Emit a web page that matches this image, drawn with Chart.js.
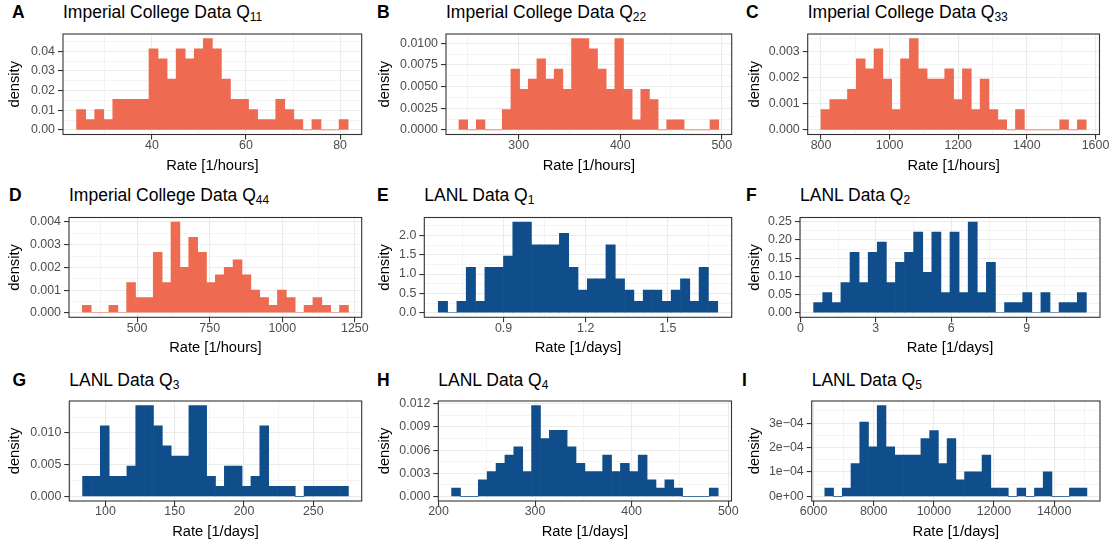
<!DOCTYPE html>
<html>
<head>
<meta charset="utf-8">
<script src="https://cdn.jsdelivr.net/npm/chart.js@4.4.1/dist/chart.umd.min.js"></script>
<style>
  body { margin: 0; background: #fff; font-family: "Liberation Sans", Arial, sans-serif; }
  #wrap { position: relative; width: 1113px; height: 545px; overflow: hidden; }
  .tag { position: absolute; font-weight: bold; font-size: 17.5px; line-height: 17.5px; }
  .ttl { position: absolute; font-size: 17.5px; line-height: 17.5px; white-space: nowrap; }
  .ttl sub { font-size: 12px; vertical-align: -2.5px; line-height: 0; }
  canvas { position: absolute; }
</style>
</head>
<body>
<div id="wrap"></div>
<script>
// histogram data, 30 equal bins each: [first edge, last edge] and density per bin

// Imperial College Q11
const rangeQ11 = [24.0, 81.7];
const densQ11 = [0.0103,0.0052,0.0103,0.0052,0.0155,0.0155,0.0155,0.0155,0.0412,0.0361,0.0258,0.0412,0.0361,0.0412,0.0464,0.0412,0.0258,0.0155,0.0155,0.0103,0.0052,0.0052,0.0155,0.0103,0.0052,0,0.0052,0,0,0.0052];
const xTicksQ11 = [40, 60, 80];
const yTicksQ11 = [0, 0.01, 0.02, 0.03, 0.04];
const yLabelsQ11 = ['0.00', '0.01', '0.02', '0.03', '0.04'];

// Imperial College Q22
const rangeQ22 = [241.2, 497.0];
const densQ22 = [0.00117,0,0.00117,0,0,0.00234,0.00702,0.00468,0.00585,0.00819,0.00585,0.00702,0.00468,0.01053,0.01053,0.00936,0.00702,0.00468,0.01053,0.00468,0.00117,0.00468,0.00351,0,0.00117,0.00117,0,0,0,0.00117];
const xTicksQ22 = [300, 400, 500];
const yTicksQ22 = [0, 0.0025, 0.005, 0.0075, 0.01];
const yLabelsQ22 = ['0.0000', '0.0025', '0.0050', '0.0075', '0.0100'];

// Imperial College Q33
const rangeQ33 = [800, 1573];
const densQ33 = [0.00078,0.00116,0.00116,0.00155,0.00272,0.00233,0.0031,0.00194,0.00078,0.00272,0.00349,0.00233,0.00194,0.00194,0.00233,0.00116,0.00233,0.00078,0.00194,0.00078,0.00039,0,0.00078,0,0,0,0,0.00039,0,0.00039];
const xTicksQ33 = [800, 1000, 1200, 1400, 1600];
const yTicksQ33 = [0, 0.001, 0.002, 0.003];
const yLabelsQ33 = ['0.000', '0.001', '0.002', '0.003'];

// Imperial College Q44
const rangeQ44 = [311, 1228];
const densQ44 = [0.00033,0,0,0.00033,0,0.00133,0.00067,0.00067,0.00266,0.00133,0.004,0.002,0.00333,0.00266,0.00133,0.00167,0.002,0.00233,0.00167,0.001,0.00067,0.00033,0.001,0.00067,0,0.00033,0.00067,0.00033,0,0.00033];
const xTicksQ44 = [500, 750, 1000, 1250];
const yTicksQ44 = [0, 0.001, 0.002, 0.003, 0.004];
const yLabelsQ44 = ['0.000', '0.001', '0.002', '0.003', '0.004'];

// LANL Q1
const rangeL1 = [0.6615, 1.6825];
const densL1 = [0.293,0,0.293,1.172,0.293,1.172,1.172,1.465,2.344,2.344,1.758,1.758,1.758,2.051,1.172,0.586,0.879,0.879,1.758,0.879,0.586,0.293,0.586,0.586,0.293,0.586,0.879,0.293,1.172,0.293];
const xTicksL1 = [0.9, 1.2, 1.5];
const xLabelsL1 = ['0.9', '1.2', '1.5'];
const yTicksL1 = [0, 0.5, 1, 1.5, 2];
const yLabelsL1 = ['0.0', '0.5', '1.0', '1.5', '2.0'];

// LANL Q2
const rangeL2 = [0.528, 11.37];
const densL2 = [0.0277,0.0554,0.0277,0.0831,0.1662,0.0831,0.1662,0.1939,0.0831,0.1385,0.1662,0.2216,0.1108,0.2216,0.0554,0.2216,0.0554,0.2493,0.0554,0.1385,0,0.0277,0.0277,0.0554,0,0.0554,0,0.0277,0.0277,0.0554];
const xTicksL2 = [0, 3, 6, 9];
const yTicksL2 = [0, 0.05, 0.1, 0.15, 0.2, 0.25];
const yLabelsL2 = ['0.00', '0.05', '0.10', '0.15', '0.20', '0.25'];

// LANL Q3
const rangeL3 = [83.5, 275.4];
const densL3 = [0.00318,0.00318,0.01113,0.00318,0.00318,0.00477,0.01431,0.01431,0.01113,0.00795,0.00636,0.00636,0.01431,0.01431,0.00318,0.00159,0.00477,0.00477,0.00159,0.00318,0.01113,0.00159,0.00159,0.00159,0,0.00159,0.00159,0.00159,0.00159,0.00159];
const xTicksL3 = [100, 150, 200, 250];
const yTicksL3 = [0, 0.005, 0.01];
const yLabelsL3 = ['0.000', '0.005', '0.010'];

// LANL Q4
const rangeL4 = [213.6, 489.6];
const densL4 = [0.00107,0,0,0.00214,0.00321,0.00428,0.00535,0.00642,0.00321,0.01177,0.00749,0.00856,0.00856,0.00642,0.00428,0.00321,0.00321,0.00535,0.00321,0.00428,0.00321,0.00535,0.00214,0.00107,0.00214,0.00107,0,0,0,0.00107];
const xTicksL4 = [200, 300, 400, 500];
const yTicksL4 = [0, 0.003, 0.006, 0.009, 0.012];
const yLabelsL4 = ['0.000', '0.003', '0.006', '0.009', '0.012'];

// LANL Q5
const rangeL5 = [6374, 15088];
const densL5 = [3.4e-5,0,3.4e-5,1.35e-4,3.04e-4,2.03e-4,3.72e-4,2.03e-4,1.69e-4,1.69e-4,1.69e-4,2.37e-4,2.7e-4,1.35e-4,2.37e-4,6.8e-5,1.01e-4,1.01e-4,1.69e-4,3.4e-5,3.4e-5,0,3.4e-5,0,3.4e-5,1.01e-4,0,0,3.4e-5,3.4e-5];
const xTicksL5 = [6000, 8000, 10000, 12000, 14000];
const yTicksL5 = [0, 1e-4, 2e-4, 3e-4];
const yLabelsL5 = ['0e+00', '1e\u221204', '2e\u221204', '3e\u221204'];

const ORANGE = '#EE6A50';
const BLUE = '#104E8B';
const HOURS = 'Rate [1/hours]';
const DAYS = 'Rate [1/days]';

// layout: column [left, width], plot box [left, right, top, bottom], tag x
const panels = [
  {tag:'A', name:'Imperial College Data Q', sub:'11', xTitle:HOURS, color:ORANGE, range:rangeQ11, dens:densQ11, xTicks:xTicksQ11, yTicks:yTicksQ11, yLabels:yLabelsQ11, col:[0,370], box:[63,361.7,34,134.5], row:0, tagX:12},
  {tag:'B', name:'Imperial College Data Q', sub:'22', xTitle:HOURS, color:ORANGE, range:rangeQ22, dens:densQ22, xTicks:xTicksQ22, yTicks:yTicksQ22, yLabels:yLabelsQ22, col:[370,370], box:[446,731.7,34,134.5], row:0, tagX:377},
  {tag:'C', name:'Imperial College Data Q', sub:'33', xTitle:HOURS, color:ORANGE, range:rangeQ33, dens:densQ33, xTicks:xTicksQ33, yTicks:yTicksQ33, yLabels:yLabelsQ33, col:[740,373], box:[807.7,1099.5,34,134.5], row:0, tagX:746},
  {tag:'D', name:'Imperial College Data Q', sub:'44', xTitle:HOURS, color:ORANGE, range:rangeQ44, dens:densQ44, xTicks:xTicksQ44, yTicks:yTicksQ44, yLabels:yLabelsQ44, col:[0,370], box:[69,361.7,217.5,317.3], row:1, tagX:9},
  {tag:'E', name:'LANL Data Q', sub:'1', xTitle:DAYS, color:BLUE, range:rangeL1, dens:densL1, xTicks:xTicksL1, xLabels:xLabelsL1, yTicks:yTicksL1, yLabels:yLabelsL1, col:[370,370], box:[424.3,731.7,217.5,317.3], row:1, tagX:377},
  {tag:'F', name:'LANL Data Q', sub:'2', xTitle:DAYS, color:BLUE, range:rangeL2, dens:densL2, xTicks:xTicksL2, yTicks:yTicksL2, yLabels:yLabelsL2, col:[740,373], box:[800,1100,217.5,317.3], row:1, tagX:746},
  {tag:'G', name:'LANL Data Q', sub:'3', xTitle:DAYS, color:BLUE, range:rangeL3, dens:densL3, xTicks:xTicksL3, yTicks:yTicksL3, yLabels:yLabelsL3, col:[0,370], box:[69.3,361.7,401,501], row:2, tagX:12.5},
  {tag:'H', name:'LANL Data Q', sub:'4', xTitle:DAYS, color:BLUE, range:rangeL4, dens:densL4, xTicks:xTicksL4, yTicks:yTicksL4, yLabels:yLabelsL4, col:[370,370], box:[438.3,731.5,401,501], row:2, tagX:377},
  {tag:'I', name:'LANL Data Q', sub:'5', xTitle:DAYS, color:BLUE, range:rangeL5, dens:densL5, xTicks:xTicksL5, yTicks:yTicksL5, yLabels:yLabelsL5, col:[740,373], box:[811.7,1100,401,501], row:2, tagX:742},
];
const titleBaseline = [18.3, 201.7, 387];

Chart.defaults.font.family = '"Liberation Sans", Arial, sans-serif';

// major ticks with labels plus minor ticks halfway, kept inside the limits
function makeTicks(vals, labels, lo, hi) {
  const step = vals[1] - vals[0];
  const out = vals.map((v, i) => ({value: v, text: labels[i]}));
  for (let k = -1; k < vals.length; k++) {
    out.push({value: vals[0] + step * (k + 0.5), minor: true, text: ''});
  }
  const eps = (hi - lo) * 1e-6;
  return out.filter(t => t.value >= lo - eps && t.value <= hi + eps).sort((a, b) => a.value - b.value);
}

const frame = {
  id: 'frame',
  afterDatasetsDraw(chart) {
    const {ctx, chartArea: a} = chart;
    ctx.save();
    ctx.strokeStyle = '#333333';
    ctx.lineWidth = 1.1;
    ctx.strokeRect(a.left, a.top, a.right - a.left, a.bottom - a.top);
    ctx.restore();
  }
};

const wrap = document.getElementById('wrap');
const isMinor = c => c.tick && c.tick.minor;

panels.forEach(p => {
  const [colX, colW] = p.col;
  const [pl, pr, pt, pb] = p.box;

  const tag = document.createElement('div');
  tag.className = 'tag';
  tag.style.left = p.tagX + 'px';
  tag.style.top = (titleBaseline[p.row] - 14.8) + 'px';
  tag.textContent = p.tag;
  wrap.appendChild(tag);

  const ttl = document.createElement('div');
  ttl.className = 'ttl';
  ttl.style.left = pl + 'px';
  ttl.style.top = (titleBaseline[p.row] - 14.8) + 'px';
  ttl.innerHTML = p.name + '<sub>' + p.sub + '</sub>';
  wrap.appendChild(ttl);

  const canvasTop = Math.floor(pt - 8);
  const padTop = pt - canvasTop;
  const canvasH = Math.ceil(padTop + (pb - pt) + 40);
  const cv = document.createElement('canvas');
  cv.width = colW;
  cv.height = canvasH;
  cv.style.left = colX + 'px';
  cv.style.top = canvasTop + 'px';
  wrap.appendChild(cv);

  const [lo, hi] = p.range;
  const w = (hi - lo) / p.dens.length;
  const xMin = lo - 0.05 * (hi - lo);
  const xMax = hi + 0.05 * (hi - lo);
  const peak = Math.max(...p.dens);
  const yMin = -0.05 * peak;
  const yMax = 1.05 * peak;
  const xLabels = p.xLabels || p.xTicks.map(String);

  new Chart(cv, {
    type: 'bar',
    data: {
      datasets: [{
        data: p.dens.map((d, i) => ({x: lo + w * (i + 0.5), y: d})),
        backgroundColor: p.color,
        borderWidth: 0,
        barPercentage: 1,
        categoryPercentage: 1
      }]
    },
    options: {
      responsive: false,
      animation: false,
      devicePixelRatio: 1,
      events: [],
      layout: { padding: { left: 0, top: padTop, right: colX + colW - pr, bottom: canvasH - padTop - (pb - pt) - 40 } },
      plugins: { legend: { display: false }, tooltip: { enabled: false } },
      scales: {
        x: {
          type: 'linear', min: xMin, max: xMax, offset: false,
          afterBuildTicks: s => { s.ticks = makeTicks(p.xTicks, xLabels, xMin, xMax); },
          afterFit: s => { s.height = 40; s.paddingLeft = 0; s.paddingRight = 0; s.paddingTop = 0; s.paddingBottom = 0; },
          grid: {
            offset: false, color: '#EBEBEB',
            lineWidth: c => isMinor(c) ? 0.55 : 1.1,
            tickLength: 5, tickWidth: 1.1,
            tickColor: c => isMinor(c) ? 'rgba(0,0,0,0)' : '#333333'
          },
          border: { display: false },
          ticks: { autoSkip: false, maxRotation: 0, padding: -1.5, color: '#4D4D4D', font: { size: 12.4 },
                   callback: (v, i, t) => t[i].text },
          title: { display: true, text: p.xTitle, color: '#000', font: { size: 14.7 }, padding: { top: 0, bottom: 0.2 } }
        },
        y: {
          min: yMin, max: yMax, beginAtZero: false,
          afterBuildTicks: s => { s.ticks = makeTicks(p.yTicks, p.yLabels, yMin, yMax); },
          afterFit: s => { s.width = pl - colX; s.paddingLeft = 0; s.paddingRight = 0; s.paddingTop = 0; s.paddingBottom = 0; },
          grid: {
            color: '#EBEBEB',
            lineWidth: c => isMinor(c) ? 0.55 : 1.1,
            tickLength: 5, tickWidth: 1.1,
            tickColor: c => isMinor(c) ? 'rgba(0,0,0,0)' : '#333333'
          },
          border: { display: false },
          ticks: { autoSkip: false, padding: 3, color: '#4D4D4D', font: { size: 12.4 },
                   callback: (v, i, t) => t[i].text },
          title: { display: true, text: 'density', color: '#000', font: { size: 14.7 }, padding: { top: 6.2, bottom: 0 } }
        }
      }
    },
    plugins: [frame]
  });
});
</script>
</body>
</html>
